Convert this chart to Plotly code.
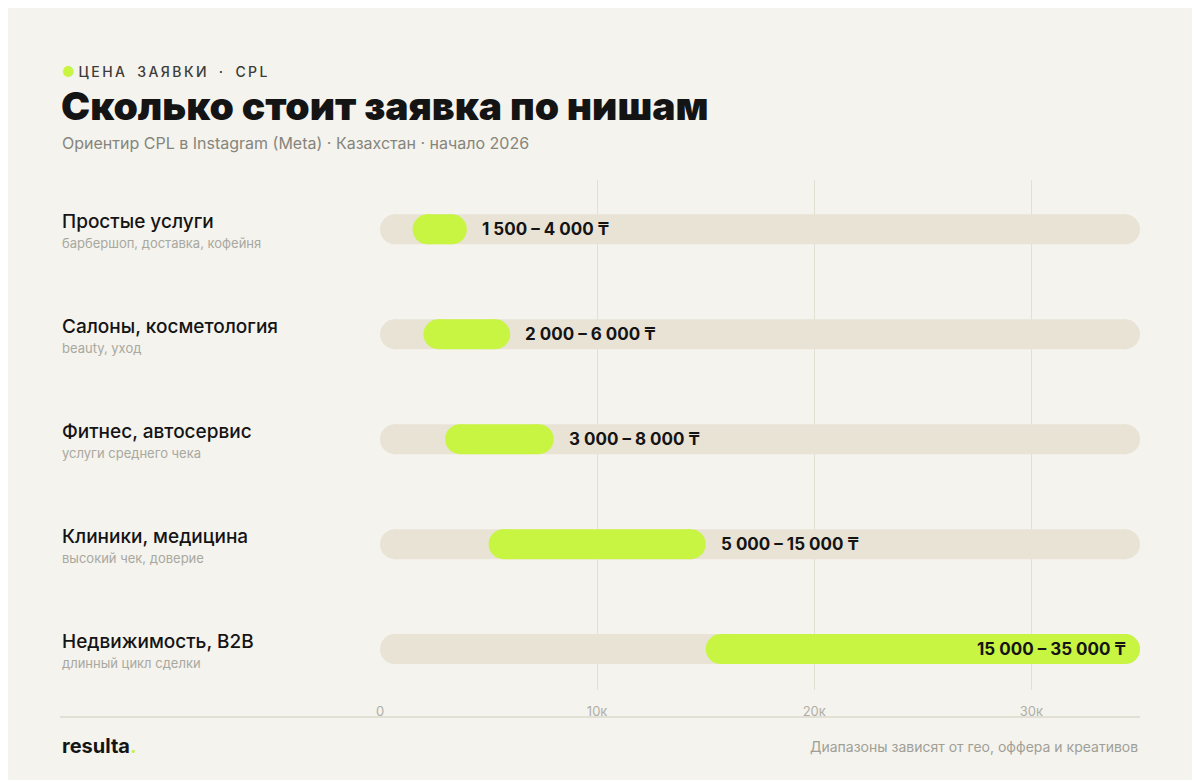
import plotly.graph_objects as go

niches = ["Простые услуги", "Салоны, косметология", "Фитнес, автосервис", "Клиники, медицина", "Недвижимость, B2B"]
notes = ["барбершоп, доставка, кофейня", "beauty, уход", "услуги среднего чека", "высокий чек, доверие", "длинный цикл сделки"]
cpl_low = [1500, 2000, 3000, 5000, 15000]
cpl_high = [4000, 6000, 8000, 15000, 35000]
axis_max = 35000
tick_vals = [0, 10000, 20000, 30000]
tick_text = ["0", "10к", "20к", "30к"]

BG = "#f4f3ee"
TRACK = "#e9e3d6"
GREEN = "#c8f442"
INK = "#141414"
FONT = "Inter"

px_per_unit = 760 / axis_max
cap = 15 / px_per_unit  # half bar height in data units

def fmt(v):
    return f"{v:,}".replace(",", " ")

fig = go.Figure()
for i in range(len(niches)):
    fig.add_trace(go.Scatter(
        x=[cap, axis_max - cap], y=[i, i], mode="lines+markers",
        line=dict(color=TRACK, width=30), marker=dict(color=TRACK, size=30),
        hoverinfo="skip", showlegend=False))
    fig.add_trace(go.Scatter(
        x=[cpl_low[i] + cap, cpl_high[i] - cap], y=[i, i], mode="lines+markers",
        line=dict(color=GREEN, width=30), marker=dict(color=GREEN, size=30),
        hovertemplate=f"{niches[i]}: {fmt(cpl_low[i])} – {fmt(cpl_high[i])} ₸<extra></extra>",
        showlegend=False))
    label = f"{fmt(cpl_low[i])} – {fmt(cpl_high[i])} ₸"
    inside = cpl_high[i] >= axis_max
    fig.add_annotation(x=cpl_high[i], y=i, text=f"<b>{label}</b>", showarrow=False,
                       xanchor="right" if inside else "left", xshift=-12 if inside else 13,
                       font=dict(size=17, color=INK, family=FONT))
    fig.add_annotation(x=-0.421, xref="paper", y=i, text=niches[i], showarrow=False,
                       xanchor="left", yshift=8, font=dict(size=19, color=INK, family=FONT, weight=500))
    fig.add_annotation(x=-0.421, xref="paper", y=i, text=notes[i], showarrow=False,
                       xanchor="left", yshift=-14, font=dict(size=13, color="#a9a89f", family=FONT))

kicker = "\u2009".join("ЦЕНА ЗАЯВКИ · CPL").replace(" ", "\u00a0\u00a0")
head = [
    dict(x=-0.421, y=1.212, text="<span style='color:#c8f442'>●</span>\u00a0" + kicker,
         font=dict(size=14, color="#3c3c38", family=FONT, weight=500)),
    dict(x=-0.423, y=1.147, text="Сколько стоит заявка по нишам",
         font=dict(size=39, color=INK, family="Inter", weight=900)),
    dict(x=-0.421, y=1.073, text="Ориентир CPL в Instagram (Meta) · Казахстан · начало 2026",
         font=dict(size=16, color="#86857c", family=FONT)),
    dict(x=-0.421, y=-0.110, text="<b>resulta</b><span style='color:#c8f442'><b>.</b></span>",
         font=dict(size=20, color=INK, family=FONT)),
    dict(x=1.0, y=-0.110, text="Диапазоны зависят от гео, оффера и креативов", xanchor="right",
         font=dict(size=14, color="#a09f96", family=FONT)),
]
for h in head:
    h.setdefault("xanchor", "left")
    fig.add_annotation(xref="paper", yref="paper", showarrow=False, yanchor="middle", **h)

fig.add_shape(type="line", xref="paper", yref="paper", x0=-0.421, x1=1.0, y0=-0.053, y1=-0.053,
              line=dict(color="#dcdacb", width=1.5))

fig.update_layout(
    width=1200, height=780, paper_bgcolor=BG, plot_bgcolor=BG,
    margin=dict(l=372, r=68, t=172, b=98),
    xaxis=dict(range=[0, axis_max], tickvals=tick_vals, ticktext=tick_text, showgrid=True,
               gridcolor="#e2e0d3", gridwidth=1, zeroline=False, showline=False,
               tickfont=dict(size=13, color="#b0afa5", family=FONT), ticklabelstandoff=12),
    yaxis=dict(range=[4.39, -0.47], showticklabels=False, showgrid=False, zeroline=False),
    font=dict(family=FONT),
)

fig.write_html("out.html")
